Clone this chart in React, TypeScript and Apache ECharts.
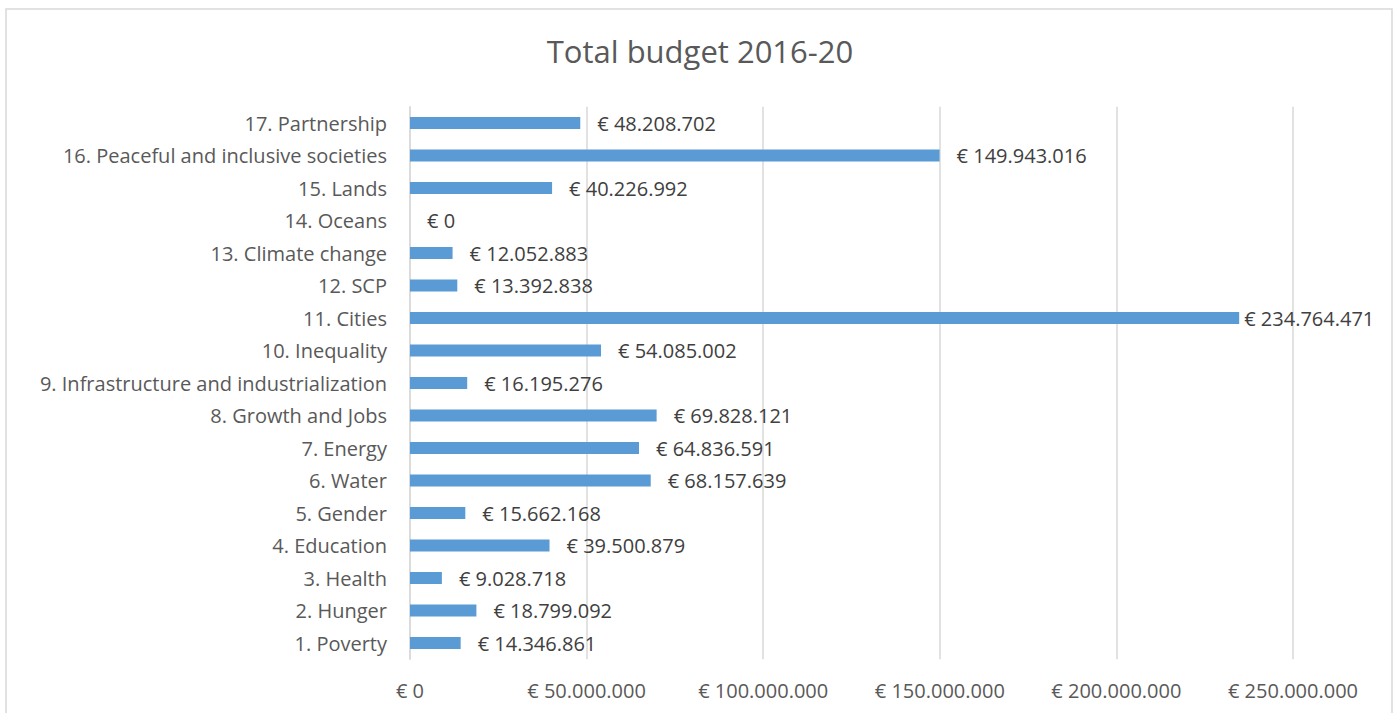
import React, { useEffect, useRef } from "react";
import * as echarts from "echarts";

const categories = [
  "1. Poverty",
  "2. Hunger",
  "3. Health",
  "4. Education",
  "5. Gender",
  "6. Water",
  "7. Energy",
  "8. Growth and Jobs",
  "9. Infrastructure and industrialization",
  "10. Inequality",
  "11. Cities",
  "12. SCP",
  "13. Climate change",
  "14. Oceans",
  "15. Lands",
  "16. Peaceful and inclusive societies",
  "17. Partnership",
];

const budget = [
  14346861, 18799092, 9028718, 39500879, 15662168, 68157639, 64836591,
  69828121, 16195276, 54085002, 234764471, 13392838, 12052883, 0, 40226992,
  149943016, 48208702,
];

const title = "Total budget 2016-20";
const xMin = 0;
const xMax = 250000000;
const xInterval = 50000000;

const fmt = (v: number) =>
  "€ " + String(Math.round(v)).replace(/\B(?=(\d{3})+(?!\d))/g, ".");

export default function App() {
  const ref = useRef<HTMLDivElement>(null);
  useEffect(() => {
    document.body.style.margin = "0";
    const chart = echarts.init(ref.current!, null, { renderer: "svg" });
    const font = "Open Sans";
    const maxVal = Math.max(...budget);
    const seriesData = budget.map((v) =>
      v === maxVal ? { value: v, label: { distance: 5 } } : v
    );
    chart.setOption({
      animation: false,
      backgroundColor: "#ffffff",
      title: {
        text: title,
        left: "center",
        top: 30,
        textStyle: {
          fontFamily: font,
          fontSize: 31,
          fontWeight: "normal",
          color: "#595959",
        },
      },
      graphic: [
        {
          type: "rect",
          shape: { x: 6, y: 9, width: 1386, height: 720 },
          style: { fill: "none", stroke: "#d9d9d9", lineWidth: 1.5 },
          silent: true,
        },
      ],
      grid: { left: 410, right: 107, top: 106.75, bottom: 53.75 },
      xAxis: {
        type: "value",
        min: xMin,
        max: xMax,
        interval: xInterval,
        axisLine: { show: false },
        axisTick: { show: false },
        splitLine: { lineStyle: { color: "#d9d9d9", width: 1.5 } },
        axisLabel: {
          formatter: (v: number) => fmt(v),
          fontFamily: font,
          fontSize: 20,
          color: "#595959",
          margin: 21,
        },
      },
      yAxis: {
        type: "category",
        data: categories,
        axisLine: { show: true, lineStyle: { color: "#d9d9d9", width: 1.5 } },
        axisTick: { show: false },
        axisLabel: {
          fontFamily: font,
          fontSize: 20,
          color: "#595959",
          margin: 23,
        },
      },
      series: [
        {
          type: "bar",
          data: seriesData,
          barWidth: 12,
          itemStyle: { color: "#5b9bd5" },
          label: {
            show: true,
            position: "right",
            distance: 17,
            formatter: (p: any) => fmt(p.value),
            fontFamily: font,
            fontSize: 20,
            color: "#404040",
          },
        },
      ],
    });
    return () => chart.dispose();
  }, []);
  return <div ref={ref} style={{ width: 1400, height: 713 }} />;
}
